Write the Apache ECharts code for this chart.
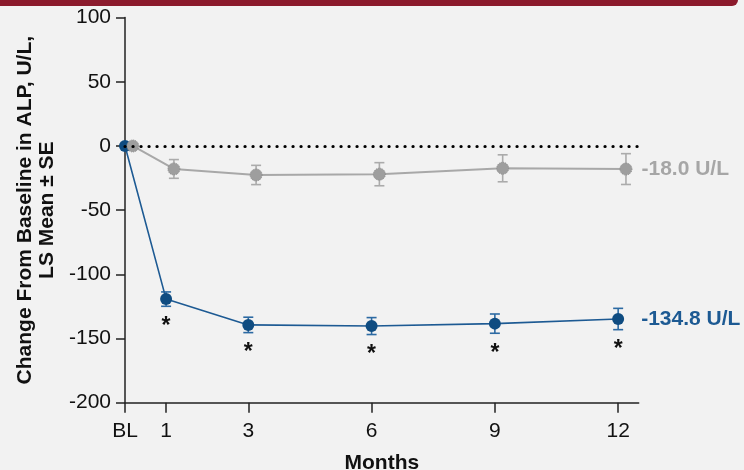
<!DOCTYPE html>
<html>
<head>
<meta charset="utf-8">
<script src="https://cdn.jsdelivr.net/npm/echarts@6/dist/echarts.min.js"></script>
<style>
  html, body { margin: 0; padding: 0; background: #f2f2f2; }
  #chart { width: 744px; height: 470px; }
</style>
</head>
<body>
<div id="chart"></div>
<script>
// Visit months (BL = baseline) and their axis labels
const months = [0, 1, 3, 6, 9, 12];
const tickLabels = ['BL', '1', '3', '6', '9', '12'];

// Active treatment: LS mean change from baseline in ALP (U/L) and SE
const activeMean = [0, -119.3, -139.4, -140.3, -138.4, -134.8];
const activeSE = [0, 5.6, 6.0, 6.6, 7.5, 8.3];
const activeSignificant = [false, true, true, true, true, true];

// Placebo: LS mean change from baseline in ALP (U/L) and SE
const placeboMean = [0, -17.9, -22.6, -22.0, -17.4, -18.0];
const placeboSE = [0, 7.3, 7.5, 9.0, 10.5, 12.0];

const FONT = "'Liberation Sans', Arial, Helvetica, sans-serif";
const BLUE = '#0f4c81';
const BLUE_LINE = '#1d5a93';
const GRAY = '#a3a3a3';
const PLACEBO_DODGE = 0.19; // small horizontal shift so the two groups don't overlap

function errorBars(mean, se, sig, dx, color) {
  return {
    type: 'custom',
    z: 1,
    silent: true,
    data: months.map((m, i) => [m + dx, mean[i] - se[i], mean[i] + se[i], sig && sig[i] ? 1 : 0]),
    encode: { x: 0, y: [1, 2] },
    renderItem(params, api) {
      const x = api.value(0);
      const lo = api.coord([x, api.value(1)]);
      const hi = api.coord([x, api.value(2)]);
      const half = 5;
      const style = { stroke: color, lineWidth: 1.6 };
      const children = [];
      if (lo[1] - hi[1] > 0.5) {
        children.push({ type: 'line', shape: { x1: lo[0], y1: lo[1], x2: hi[0], y2: hi[1] }, style });
        children.push({ type: 'line', shape: { x1: lo[0] - half, y1: lo[1], x2: lo[0] + half, y2: lo[1] }, style });
        children.push({ type: 'line', shape: { x1: hi[0] - half, y1: hi[1], x2: hi[0] + half, y2: hi[1] }, style });
      }
      if (api.value(3)) {
        children.push({
          type: 'text', x: lo[0], y: lo[1] + 20,
          style: { text: '*', fill: '#111', font: 'bold 23px ' + FONT, align: 'center', verticalAlign: 'middle' }
        });
      }
      return { type: 'group', children };
    }
  };
}

function meanLine(mean, dx, markerColor, lineColor, lineWidth, labelColor, labelDistance, extra) {
  const last = mean.length - 1;
  return Object.assign({
    type: 'line',
    z: 3,
    data: months.map((m, i) => ({
      value: [m + dx, mean[i]],
      label: i === last ? {
        show: true, position: 'right', distance: labelDistance,
        formatter: mean[i].toFixed(1) + ' U/L',
        color: labelColor, fontFamily: FONT, fontWeight: 'bold', fontSize: 21
      } : { show: false }
    })),
    symbol: 'circle',
    symbolSize: 12,
    itemStyle: { color: markerColor },
    lineStyle: { color: lineColor, width: lineWidth },
    emphasis: { disabled: true },
    animation: false
  }, extra || {});
}

const chart = echarts.init(document.getElementById('chart'));
chart.setOption({
  backgroundColor: '#f2f2f2',
  animation: false,
  graphic: [{
    type: 'rect',
    shape: { x: 0, y: 0, width: 738, height: 6, r: [0, 0, 6, 0] },
    style: { fill: '#8b1a2c' }
  }],
  grid: { left: 125, right: 105.3, top: 17.6, bottom: 67.3, containLabel: false, outerBoundsMode: 'none' },
  xAxis: {
    type: 'value',
    min: 0,
    max: 12.5,
    name: 'Months',
    nameLocation: 'middle',
    nameGap: 50,
    nameTextStyle: { fontFamily: FONT, fontWeight: 'bold', fontSize: 21, color: '#111' },
    axisLine: { show: true, onZero: false, lineStyle: { color: '#222', width: 1.5 } },
    axisTick: { show: true, length: 10, customValues: months, lineStyle: { color: '#222', width: 1.5 } },
    axisLabel: {
      customValues: months,
      formatter: v => tickLabels[months.indexOf(v)],
      margin: 18,
      fontFamily: FONT, fontSize: 21, color: '#111'
    },
    splitLine: { show: false }
  },
  yAxis: {
    type: 'value',
    min: -200,
    max: 100,
    interval: 50,
    name: 'Change From Baseline in ALP, U/L,\nLS Mean \u00b1 SE',
    nameLocation: 'middle',
    nameGap: 63,
    nameTextStyle: { fontFamily: FONT, fontWeight: 'bold', fontSize: 21, color: '#111', lineHeight: 22 },
    axisLine: { show: true, lineStyle: { color: '#222', width: 1.5 } },
    axisTick: { show: true, length: 9, lineStyle: { color: '#222', width: 1.5 } },
    axisLabel: { margin: 14, fontFamily: FONT, fontSize: 21, color: '#111' },
    splitLine: { show: false }
  },
  series: [
    errorBars(activeMean, activeSE, activeSignificant, 0, '#2c6aa3'),
    errorBars(placeboMean, placeboSE, null, PLACEBO_DODGE, '#ababab'),
    meanLine(activeMean, 0, BLUE, BLUE_LINE, 1.6, '#1d5a93', 17, {
      markLine: {
        silent: true,
        symbol: 'none',
        label: { show: false },
        lineStyle: { color: '#000', width: 3.2, type: [0.1, 7.9], cap: 'round' },
        data: [{ yAxis: 0 }]
      }
    }),
    meanLine(placeboMean, PLACEBO_DODGE, GRAY, '#a8a8a8', 2, '#a6a6a6', 9, {
      itemStyle: { color: '#9e9e9e', borderColor: '#8a8a8a', borderWidth: 1, borderType: 'dotted' }
    })
  ]
});
</script>
</body>
</html>
